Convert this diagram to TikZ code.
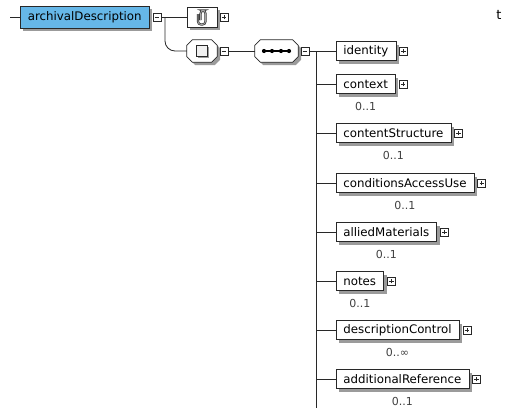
\documentclass[tikz,border=0pt]{standalone}
\usepackage{fontspec}
\setmainfont{DejaVu Sans}
\usetikzlibrary{positioning,shadows}

\definecolor{elemblue}{RGB}{102,183,232}
\definecolor{shadegray}{RGB}{155,155,155}
\definecolor{linegray}{RGB}{40,40,40}

\tikzset{
  boxshade/.style={drop shadow={shadow xshift=3pt,shadow yshift=-3pt,fill=shadegray,opacity=1}},
  elem/.style={draw=linegray,fill=white,line width=0.8pt,minimum height=19pt,
    inner xsep=7.5pt,inner ysep=0pt,font=\fontsize{11.8}{12}\selectfont,boxshade},
  compositor/.style={inner sep=0pt,minimum height=22pt},
  octline/.style={draw=linegray,fill=white,line width=0.8pt,boxshade},
  pmbox/.style={draw=linegray,fill=white,line width=0.7pt,minimum size=8pt,inner sep=0pt},
  minusbox/.style={pmbox,path picture={
    \draw[line width=0.7pt] ([xshift=-2.3pt]path picture bounding box.center) -- ([xshift=2.3pt]path picture bounding box.center);}},
  plusbox/.style={pmbox,path picture={
    \draw[line width=0.7pt] ([xshift=-2.3pt]path picture bounding box.center) -- ([xshift=2.3pt]path picture bounding box.center);
    \draw[line width=0.7pt] ([yshift=-2.3pt]path picture bounding box.center) -- ([yshift=2.3pt]path picture bounding box.center);}},
  occ/.style={font=\fontsize{11}{12}\selectfont,text=black!75,inner sep=0pt},
  conn/.style={draw=linegray,line width=0.8pt}
}

% octagon frame round a named node
\newcommand{\octframe}[1]{%
  \draw[octline] ([xshift=5.5pt]#1.north west) -- ([xshift=-5.5pt]#1.north east)
    -- ([yshift=-5.5pt]#1.north east) -- ([yshift=5.5pt]#1.south east)
    -- ([xshift=-5.5pt]#1.south east) -- ([xshift=5.5pt]#1.south west)
    -- ([yshift=5.5pt]#1.south west) -- ([yshift=-5.5pt]#1.north west) -- cycle;}

\begin{document}
\begin{tikzpicture}[x=1pt,y=-1pt]
  \useasboundingbox (0,0) rectangle (506,408);
  % Root element
  \coordinate (lead) at (10,17);
  \node[elem,fill=elemblue,minimum height=22pt,anchor=west] (archdesc) at (20,17) {archivalDescription};
  \node[minusbox,right=3pt of archdesc.east] (archminus) {};
  \draw[conn] (lead) -- (archdesc.west);
  % Attribute group and choice
  \node[elem,minimum width=30pt,minimum height=20pt,inner xsep=0pt] (attach) at (202,17) {};
  \node[plusbox] (attachplus) at (224,17) {};
  \node[compositor,minimum width=30pt] (choice) at (202,51) {};
  \octframe{choice}
  \node[minusbox] (choiceminus) at (224,51) {};
  \coordinate (fork) at (165,17);
  \draw[conn] (archminus.east) -- (attach.west);
  \draw[conn,rounded corners=10pt] (fork) |- (choice.west);
  % Paperclip
  \draw[gray!45!black,line width=2.2pt,rounded corners=3pt] (200.5,20) -- (200.5,10.5) -- (205.5,10.5) -- (205.5,24.5) -- (198,24.5) -- (198,14);
  \draw[gray!70,line width=0.8pt,rounded corners=3pt] (200.5,20) -- (200.5,10.5) -- (205.5,10.5) -- (205.5,24.5) -- (198,24.5) -- (198,14);
  % Choice icon
  \node[draw=linegray,fill=gray!12,line width=0.8pt,minimum size=11pt,inner sep=0pt,
    drop shadow={shadow xshift=1.5pt,shadow yshift=-1.5pt,fill=shadegray,opacity=1}] (choiceicon) at (202,51) {};
  % Sequence
  \node[compositor,minimum width=43pt] (seq) at (276.5,51) {};
  \octframe{seq}
  \node[minusbox] (seqminus) at (305,51) {};
  \draw[conn] (choiceminus.east) -- (seq.west);
  \draw[black,line width=1.4pt] (263,51) -- (290,51);
  \foreach \x in {264,272,281,289}
    \fill[black] (\x,51) circle (2.1pt);
  % Spine
  \coordinate (spinetop) at (316,51);
  \coordinate (spinebottom) at (316,408);
  \draw[conn] (seqminus.east) -- (spinetop);
  \draw[conn] (spinetop) -- (spinebottom);
  % Children
  \foreach \name/\txt/\y/\n in {identity/identity/51/,context/context/84/0..1,
      contentstructure/contentStructure/133/0..1,conditions/conditionsAccessUse/183/0..1,
      allied/alliedMaterials/232/0..1,notes/notes/281/0..1,
      descontrol/descriptionControl/330/0..∞,addref/additionalReference/379/0..1} {
    \node[elem,anchor=west] (\name) at (335.5,\y) {\txt};
    \node[plusbox,right=3pt of \name.east] (\name plus) {};
    \node[occ] (\name occ) at ([yshift=-22pt]\name.center) {\n};
    \draw[conn] (spinetop |- \name.west) -- (\name.west);
  }
  % Cut-off text at the right edge
  \node[font=\fontsize{13}{13}\selectfont,inner sep=0pt] (edgetext) at (499,15) {t};
\end{tikzpicture}
\end{document}
